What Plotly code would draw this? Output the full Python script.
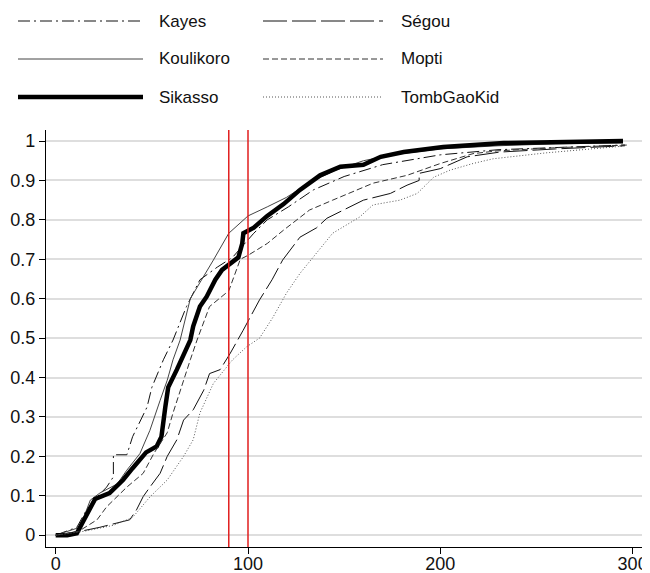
import plotly.graph_objects as go

# ---- data ----
regions = ["Kayes", "Koulikoro", "Sikasso", "Ségou", "Mopti", "TombGaoKid"]

kayes_x = [0, 11, 16, 21.5, 26.5, 30, 30, 37, 40, 47.5, 50, 56, 61, 68, 75, 84, 92, 103, 110, 121, 134, 150, 170, 200, 230, 260, 296]
kayes_y = [0, 0.02, 0.064, 0.097, 0.122, 0.148, 0.204, 0.204, 0.25, 0.325, 0.375, 0.445, 0.495, 0.58, 0.648, 0.68, 0.705, 0.766, 0.80, 0.833, 0.876, 0.91, 0.94, 0.965, 0.978, 0.984, 0.99]

koul_x = [0, 12.6, 18, 23, 32, 37, 43.8, 49, 54.3, 58, 61, 64.7, 70, 75, 82, 90, 100, 110, 120, 132, 145, 160, 175, 200, 230, 260, 295]
koul_y = [0, 0.02, 0.089, 0.107, 0.13, 0.165, 0.207, 0.266, 0.342, 0.393, 0.445, 0.495, 0.60, 0.64, 0.698, 0.766, 0.81, 0.833, 0.857, 0.895, 0.925, 0.95, 0.965, 0.98, 0.988, 0.993, 0.995]

sik_x = [0, 6, 11, 16, 20.5, 28, 35, 40, 47, 52.5, 55, 57, 58.5, 63, 67, 70, 71.5, 75, 78.5, 83, 86.5, 90.6, 95, 97, 97.6, 103, 110, 118.5, 127, 137.5, 148, 160, 169, 181, 201.5, 233, 259, 295]
sik_y = [0, 0, 0.005, 0.05, 0.092, 0.107, 0.14, 0.17, 0.21, 0.225, 0.25, 0.325, 0.375, 0.42, 0.46, 0.495, 0.53, 0.58, 0.605, 0.648, 0.673, 0.69, 0.705, 0.74, 0.766, 0.78, 0.81, 0.84, 0.876, 0.913, 0.935, 0.94, 0.96, 0.972, 0.985, 0.995, 0.998, 1.0]

segou_x = [0, 11, 23, 32, 38.5, 42, 45.5, 49, 54.3, 58, 63, 66.5, 71.5, 77, 80, 85.5, 90.6, 97.5, 106, 112.5, 118, 127, 135.7, 141, 149.5, 160, 174, 182.7, 189, 189, 200, 214, 231, 260, 296]
segou_y = [0, 0.008, 0.02, 0.03, 0.039, 0.064, 0.098, 0.122, 0.157, 0.2, 0.242, 0.292, 0.318, 0.368, 0.41, 0.42, 0.46, 0.52, 0.597, 0.648, 0.698, 0.756, 0.78, 0.804, 0.825, 0.85, 0.867, 0.888, 0.90, 0.918, 0.93, 0.96, 0.972, 0.98, 0.988]

mopti_x = [0, 12, 21.5, 26.5, 37, 45.5, 51, 58, 61, 64.7, 70, 73.5, 80, 90, 96, 100, 110, 118.5, 132, 144, 156.5, 165, 182.7, 200, 217, 229.5, 260, 298]
mopti_y = [0, 0.01, 0.039, 0.072, 0.122, 0.157, 0.207, 0.26, 0.31, 0.368, 0.445, 0.495, 0.58, 0.62, 0.70, 0.71, 0.74, 0.774, 0.825, 0.85, 0.876, 0.893, 0.913, 0.943, 0.968, 0.975, 0.983, 0.99]

tgk_x = [0, 15, 30, 40, 49, 58, 66.5, 71.5, 75, 82, 92, 99.3, 106, 113, 120, 127, 134, 144, 158, 165, 179, 188, 196.5, 205, 217, 227.5, 255, 295]
tgk_y = [0, 0.01, 0.025, 0.045, 0.097, 0.14, 0.20, 0.242, 0.31, 0.385, 0.445, 0.478, 0.50, 0.553, 0.614, 0.664, 0.706, 0.766, 0.807, 0.838, 0.85, 0.867, 0.908, 0.926, 0.943, 0.955, 0.97, 0.987]

ref_lines = [90, 100]
x_ticks = [0, 100, 200, 300]
y_ticks = [0, 0.1, 0.2, 0.3, 0.4, 0.5, 0.6, 0.7, 0.8, 0.9, 1]
y_tick_labels = ["0", "0.1", "0.2", "0.3", "0.4", "0.5", "0.6", "0.7", "0.8", "0.9", "1"]

series_x = [kayes_x, koul_x, sik_x, segou_x, mopti_x, tgk_x]
series_y = [kayes_y, koul_y, sik_y, segou_y, mopti_y, tgk_y]

# ---- styles ----
styles = {
    "Kayes": dict(color="#111111", width=1, dash="12px,4px,2px,4px"),
    "Koulikoro": dict(color="#444444", width=1, dash="solid"),
    "Sikasso": dict(color="#000000", width=4.5, dash="solid"),
    "Ségou": dict(color="#111111", width=1, dash="24px,5px"),
    "Mopti": dict(color="#333333", width=1, dash="6px,3px"),
    "TombGaoKid": dict(color="#555555", width=1, dash="1px,2px"),
}

FONT = "Liberation Sans, Arial, sans-serif"

fig = go.Figure()
for name, xs, ys in zip(regions, series_x, series_y):
    fig.add_trace(go.Scatter(x=xs, y=ys, mode="lines", name=name,
                             line=styles[name], showlegend=False,
                             hoverinfo="skip"))

# red reference lines
for xv in ref_lines:
    fig.add_shape(type="line", xref="x", yref="paper", x0=xv, x1=xv, y0=0, y1=1,
                  line=dict(color="rgb(225,30,30)", width=1.5), layer="above")

# ---- plot area in page pixels (the page body adds an 8px offset) ----
OFF = 8
L, R, T, B = 46, 643, 130, 547
W, H = R - L, B - T
def px2p(px, py):
    return (px - L) / W, (B - py) / H

legend_rows = [21, 59, 97]
legend_cols = [(18, 143, 157), (263, 383, 399)]
order = [["Kayes", "Koulikoro", "Sikasso"], ["Ségou", "Mopti", "TombGaoKid"]]
for ci, (x0, x1, xt) in enumerate(legend_cols):
    for ri, py in enumerate(legend_rows):
        name = order[ci][ri]
        a0, b0 = px2p(x0, py)
        a1, _ = px2p(x1, py)
        fig.add_shape(type="line", xref="paper", yref="paper", x0=a0, x1=a1, y0=b0, y1=b0,
                      line=styles[name])
        at, _ = px2p(xt, py)
        fig.add_annotation(xref="paper", yref="paper", x=at, y=b0, text=name,
                           showarrow=False, xanchor="left", yanchor="middle",
                           font=dict(family=FONT, size=17, color="#111"))

fig.update_layout(
    width=650, height=573,
    margin=dict(l=L - OFF, r=650 - R + OFF, t=T - OFF, b=573 - B + OFF, autoexpand=False),
    paper_bgcolor="white", plot_bgcolor="white",
    font=dict(family=FONT, size=18, color="#111"),
    showlegend=False,
)
fig.update_xaxes(range=[-5.04, 305.4], tickvals=x_ticks, showgrid=False, zeroline=False,
                 showline=True, linecolor="black", linewidth=1.2, ticks="outside",
                 ticklen=6, tickcolor="black", tickfont=dict(size=18),
                 ticklabelstandoff=-6)
fig.update_yaxes(range=[-0.03, 1.028], tickvals=y_ticks, ticktext=y_tick_labels,
                 showgrid=True, gridcolor="#dedede", gridwidth=1.5, zeroline=False,
                 showline=True, linecolor="black", linewidth=1.2, ticks="outside",
                 ticklen=6, tickcolor="black", tickfont=dict(size=18))

fig.write_html("out.html")
